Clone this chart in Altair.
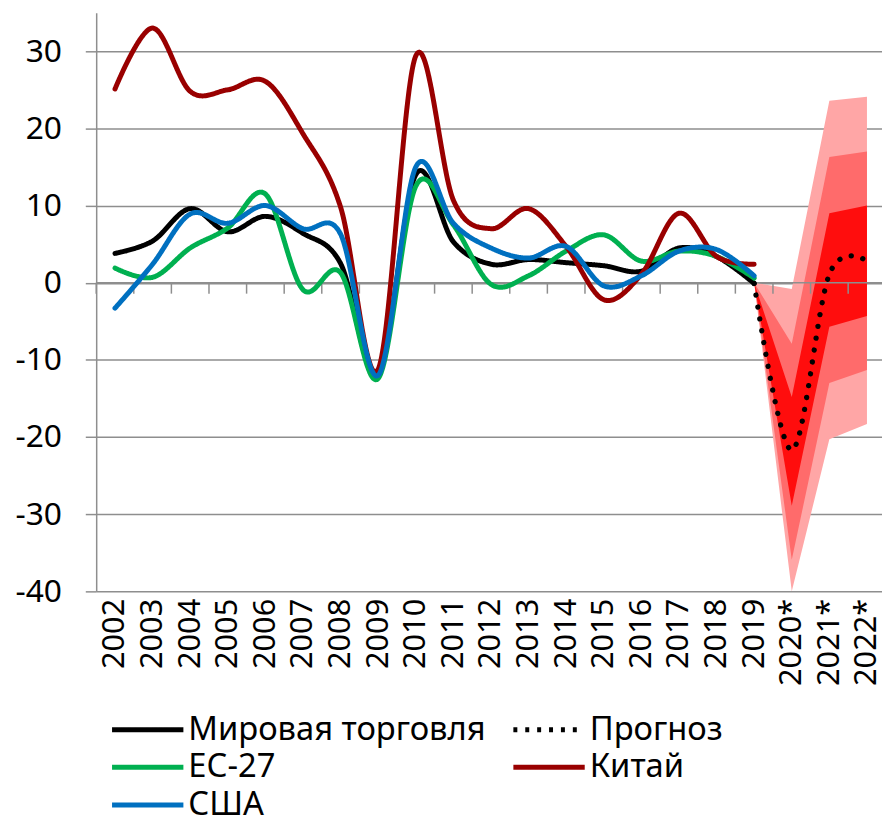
import altair as alt
import pandas as pd

# ---------------- data ----------------
years = ["2002", "2003", "2004", "2005", "2006", "2007", "2008", "2009", "2010",
         "2011", "2012", "2013", "2014", "2015", "2016", "2017", "2018", "2019",
         "2020*", "2021*", "2022*"]
hist_years = years[:18]

world = [3.8, 5.4, 9.6, 6.6, 8.6, 6.4, 2.5, -12.0, 14.0, 5.3, 2.4, 3.0, 2.6, 2.2, 1.5, 4.5, 3.4, -0.1]
eu27 = [1.9, 0.7, 4.5, 7.1, 11.5, -0.9, 1.3, -12.4, 12.5, 7.5, -0.2, 0.9, 4.1, 6.2, 2.8, 4.1, 3.4, 0.6]
china = [25.1, 33.0, 24.8, 25.0, 26.1, 19.3, 9.8, -11.2, 29.4, 10.7, 7.0, 9.6, 4.7, -2.2, 1.1, 9.0, 3.4, 2.4]
usa = [-3.3, 2.4, 8.9, 7.7, 10.0, 7.0, 6.3, -12.0, 15.0, 7.7, 4.5, 3.2, 4.7, -0.4, 0.9, 4.1, 4.3, 0.9]

fc_years = ["2019", "2020*", "2021*", "2022*"]
forecast = [-0.1, -21.7, 1.1, 2.8]
outer_hi = [0.0, -0.8, 23.6, 24.1]
mid_hi = [0.0, -7.9, 16.3, 17.0]
inner_hi = [0.0, -14.8, 9.0, 10.0]
inner_lo = [0.0, -28.9, -5.7, -4.3]
mid_lo = [0.0, -35.9, -13.0, -11.3]
outer_lo = [0.0, -40.0, -20.3, -18.3]

# legend fills column by column: col 1 = world, EU, USA; col 2 = forecast, China
names = ["Мировая торговля", "ЕС-27", "США", "Прогноз", "Китай"]
colors = ["#000000", "#00B050", "#0070C0", "#000000", "#990000"]
dashes = [[1, 0], [1, 0], [1, 0], [4, 8], [1, 0]]

y_ticks = [-40, -30, -20, -10, 0, 10, 20, 30]
tick_len = 1.415  # length of x tick marks, in y units

FONT = "Noto Sans"
GRID = "#8E8E8E"

# ---------------- tables ----------------
pos = {y: i + 0.5 for i, y in enumerate(years)}
rows = []
for name, vals in [("Мировая торговля", world), ("ЕС-27", eu27), ("Китай", china), ("США", usa)]:
    for y, v in zip(hist_years, vals):
        rows.append({"series": name, "x": pos[y], "v": v})
for y, v in zip(fc_years, forecast):
    rows.append({"series": "Прогноз", "x": pos[y], "v": v})
lines_df = pd.DataFrame(rows)

fan_df = pd.DataFrame({
    "x": [pos[y] for y in fc_years],
    "outer_lo": outer_lo, "outer_hi": outer_hi,
    "mid_lo": mid_lo, "mid_hi": mid_hi,
    "inner_lo": inner_lo, "inner_hi": inner_hi,
})
ticks_df = pd.DataFrame({"x": [float(i) for i in range(len(years))],
                         "zero": [0.0] * len(years),
                         "low": [-tick_len] * len(years)})

# ---------------- scales / axes ----------------
xscale = alt.Scale(domain=[0, 20.9], nice=False, zero=False)
yscale = alt.Scale(domain=[-40, 35], nice=False, zero=False)

label_expr = "[" + ",".join("'" + y + "'" for y in years) + "][floor(datum.value)]"
xaxis = alt.Axis(values=[pos[y] for y in years], labelExpr=label_expr, ticks=False,
                 domain=False, grid=False, labelAngle=-90, labelAlign="right",
                 labelBaseline="middle", labelPadding=7, labelFontSize=31,
                 labelFont=FONT, labelColor="black", title=None,
                 labelOverlap=False, labelFlush=False, labelBound=False)
yaxis = alt.Axis(values=y_ticks, labelExpr="datum.value + ''", tickSize=11,
                 tickColor=GRID, tickWidth=1.5, domainColor=GRID, domainWidth=1.5,
                 grid=True, gridColor=GRID, gridWidth=1.5, labelPadding=24,
                 labelFontSize=32, labelFont=FONT, labelColor="black", title=None)

# a long horizontal stroke as legend symbol (custom path, scaled by sqrt(size)/2)
legend = alt.Legend(title=None, orient="none", legendX=11.5, legendY=707, columns=2,
                    symbolType="M-1,0H5", symbolSize=576, symbolStrokeWidth=5,
                    symbolFillColor="transparent",
                    labelFont=FONT, labelFontSize=33, labelColor="black",
                    labelOffset=48.5, rowPadding=4, columnPadding=17, padding=0,
                    labelLimit=600)

color_enc = alt.Color("series:N", scale=alt.Scale(domain=names, range=colors), legend=legend)
dash_enc = alt.StrokeDash("series:N", scale=alt.Scale(domain=names, range=dashes), legend=legend)

X = alt.X("x:Q", scale=xscale, axis=xaxis)

# ---------------- layers ----------------
layers = []
fan_colors = [("outer_lo", "outer_hi", "#FFA6A6"),
              ("mid_lo", "mid_hi", "#FF6B6B"),
              ("inner_lo", "inner_hi", "#FF0D0D")]
for lo, hi, col in fan_colors:
    layers.append(
        alt.Chart(fan_df).mark_area(color=col, opacity=1, interpolate="linear").encode(
            x=X,
            y=alt.Y(lo + ":Q", scale=yscale, axis=yaxis),
            y2=alt.Y2(hi + ":Q"),
        )
    )

# zero line with its tick marks
layers.append(
    alt.Chart(ticks_df).mark_rule(color=GRID, strokeWidth=1.5).encode(
        x=X,
        y=alt.Y("zero:Q", scale=yscale, axis=yaxis),
        y2=alt.Y2("low:Q"),
    )
)
layers.append(
    alt.Chart(ticks_df).transform_filter(alt.datum.x < 1).mark_rule(color=GRID, strokeWidth=1.5).encode(
        y=alt.Y("zero:Q", scale=yscale, axis=yaxis),
    )
)

draw_order = ["Мировая торговля", "ЕС-27", "Китай", "США"]
for name in draw_order:
    layers.append(
        alt.Chart(lines_df).transform_filter(alt.datum.series == name)
        .mark_line(interpolate="cardinal", strokeWidth=5, strokeCap="round", strokeJoin="round")
        .encode(
            x=X,
            y=alt.Y("v:Q", scale=yscale, axis=yaxis),
            color=color_enc,
            strokeDash=dash_enc,
        )
    )

layers.append(
    alt.Chart(lines_df).transform_filter(alt.datum.series == "Прогноз")
    .mark_line(interpolate="cardinal", strokeWidth=5.3, strokeCap="round", strokeDash=[0.1, 12])
    .encode(
        x=X,
        y=alt.Y("v:Q", scale=yscale, axis=yaxis),
        color=color_enc,
    )
)

chart = alt.layer(*layers).properties(
    width=793, height=584,
    padding={"left": 89, "top": 1, "right": 0, "bottom": 225},
    autosize=alt.AutoSizeParams(type="none"),
    background="white",
).configure_view(stroke=None)

chart.save("out.html", embed_options={"renderer": "svg", "actions": False})
